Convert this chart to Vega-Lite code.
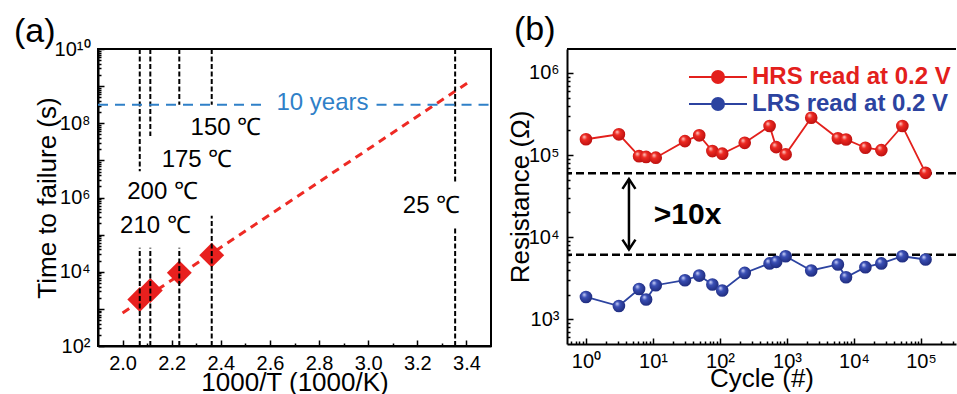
{
  "$schema": "https://vega.github.io/schema/vega-lite/v6.json",
  "padding": {"left": 13, "top": 13, "right": 0, "bottom": 0},
  "spacing": 14,
  "config": {
    "font": "Liberation Sans",
    "view": {"stroke": "black", "strokeWidth": 2},
    "axis": {
      "grid": false,
      "domainColor": "black",
      "domainWidth": 2,
      "tickColor": "black",
      "tickWidth": 1.5,
      "labelColor": "black",
      "labelFontSize": 20,
      "labelOverlap": false,
      "labelFlush": false,
      "titleColor": "black",
      "titleFontSize": 26,
      "titleFontWeight": "normal"
    },
    "title": {"fontSize": 34, "fontWeight": "normal", "color": "black", "anchor": "start", "frame": "group", "baseline": "alphabetic", "offset": -10}
  },
  "datasets": {
    "fit": [{"x": 2.0, "y": 780}, {"x": 3.416, "y": 1370000000}],
    "diam": [{"x": 2.070, "y": 1790}, {"x": 2.113, "y": 3130}, {"x": 2.231, "y": 9330}, {"x": 2.363, "y": 28000}],
    "vlines": [
      {"x": 2.070, "y": 10000000000, "y2": 5100000}, {"x": 2.070, "y": 100, "y2": 44000},
      {"x": 2.113, "y": 10000000000, "y2": 45000000}, {"x": 2.113, "y": 100, "y2": 44000},
      {"x": 2.231, "y": 10000000000, "y2": 315000000}, {"x": 2.231, "y": 100, "y2": 44000},
      {"x": 2.363, "y": 10000000000, "y2": 315000000}, {"x": 2.363, "y": 100, "y2": 320000},
      {"x": 3.354, "y": 10000000000, "y2": 2300000}, {"x": 3.354, "y": 100, "y2": 150000}
    ],
    "tenyr": [{"x": 1.9, "x2": 2.566, "y": 315000000}, {"x": 3.034, "x2": 3.5, "y": 315000000}],
    "temps": [
      {"x": 2.421, "y": 74000000, "label": "150 ℃"},
      {"x": 2.303, "y": 10000000, "label": "175 ℃"},
      {"x": 2.163, "y": 1400000, "label": "200 ℃"},
      {"x": 2.134, "y": 170000, "label": "210 ℃"},
      {"x": 3.258, "y": 590000, "label": "25 ℃"}
    ],
    "tenlabel": [{"x": 2.814, "y": 315000000, "label": "10 years"}],
    "pts": [
      {"series": "HRS read at 0.2 V", "cycle": 1, "r": 156000},
      {"series": "HRS read at 0.2 V", "cycle": 3.1, "r": 179000},
      {"series": "HRS read at 0.2 V", "cycle": 6.2, "r": 97000},
      {"series": "HRS read at 0.2 V", "cycle": 7.9, "r": 95000},
      {"series": "HRS read at 0.2 V", "cycle": 11, "r": 93000},
      {"series": "HRS read at 0.2 V", "cycle": 30, "r": 148000},
      {"series": "HRS read at 0.2 V", "cycle": 49, "r": 174000},
      {"series": "HRS read at 0.2 V", "cycle": 77, "r": 112000},
      {"series": "HRS read at 0.2 V", "cycle": 108, "r": 104000},
      {"series": "HRS read at 0.2 V", "cycle": 234, "r": 141000},
      {"series": "HRS read at 0.2 V", "cycle": 550, "r": 226000},
      {"series": "HRS read at 0.2 V", "cycle": 690, "r": 125000},
      {"series": "HRS read at 0.2 V", "cycle": 955, "r": 102000},
      {"series": "HRS read at 0.2 V", "cycle": 2300, "r": 285000},
      {"series": "HRS read at 0.2 V", "cycle": 5750, "r": 160000},
      {"series": "HRS read at 0.2 V", "cycle": 7600, "r": 155000},
      {"series": "HRS read at 0.2 V", "cycle": 14800, "r": 123000},
      {"series": "HRS read at 0.2 V", "cycle": 25600, "r": 115000},
      {"series": "HRS read at 0.2 V", "cycle": 52700, "r": 226000},
      {"series": "HRS read at 0.2 V", "cycle": 117000, "r": 60800},
      {"series": "LRS read at 0.2 V", "cycle": 1, "r": 1870},
      {"series": "LRS read at 0.2 V", "cycle": 3.1, "r": 1450},
      {"series": "LRS read at 0.2 V", "cycle": 6.2, "r": 2340},
      {"series": "LRS read at 0.2 V", "cycle": 7.9, "r": 1740},
      {"series": "LRS read at 0.2 V", "cycle": 11, "r": 2600},
      {"series": "LRS read at 0.2 V", "cycle": 30, "r": 2990},
      {"series": "LRS read at 0.2 V", "cycle": 49, "r": 3410},
      {"series": "LRS read at 0.2 V", "cycle": 77, "r": 2650},
      {"series": "LRS read at 0.2 V", "cycle": 108, "r": 2240},
      {"series": "LRS read at 0.2 V", "cycle": 234, "r": 3670},
      {"series": "LRS read at 0.2 V", "cycle": 550, "r": 4790},
      {"series": "LRS read at 0.2 V", "cycle": 690, "r": 5010},
      {"series": "LRS read at 0.2 V", "cycle": 955, "r": 5860},
      {"series": "LRS read at 0.2 V", "cycle": 2300, "r": 3930},
      {"series": "LRS read at 0.2 V", "cycle": 5750, "r": 4650},
      {"series": "LRS read at 0.2 V", "cycle": 7600, "r": 3250},
      {"series": "LRS read at 0.2 V", "cycle": 14800, "r": 4310},
      {"series": "LRS read at 0.2 V", "cycle": 25600, "r": 4790},
      {"series": "LRS read at 0.2 V", "cycle": 52700, "r": 5860},
      {"series": "LRS read at 0.2 V", "cycle": 117000, "r": 5350}
    ],
    "thr": [{"r": 60300}, {"r": 6100}],
    "border": [{"r": 1960000}],
    "arrow": [{"cycle": 4.38, "r": 51000, "r2": 7100}],
    "heads": [{"cycle": 4.38, "r": 51000, "head": "up"}, {"cycle": 4.38, "r": 7100, "head": "down"}],
    "ratio": [{"cycle": 10.3, "r": 18500, "label": ">10x"}]
  },
  "hconcat": [
    {
      "width": 393,
      "height": 297,
      "title": {"text": "(a)", "dx": -84},
      "encoding": {
        "x": {
          "field": "x", "type": "quantitative",
          "scale": {"domain": [1.9, 3.5], "nice": false, "zero": false},
          "axis": {
            "title": "1000/T (1000/K)",
            "values": [2.0, 2.1, 2.2, 2.3, 2.4, 2.5, 2.6, 2.7, 2.8, 2.9, 3.0, 3.1, 3.2, 3.3, 3.4],
            "labelExpr": "abs(datum.value*5 - round(datum.value*5)) < 0.01 ? format(datum.value, '.1f') : ''",
            "tickSize": {"condition": {"test": "abs(datum.value*5 - round(datum.value*5)) < 0.01", "value": -6}, "value": -3},
            "labelPadding": 13,
            "titlePadding": -7
          }
        },
        "y": {
          "field": "y", "type": "quantitative",
          "scale": {"type": "log", "domain": [100, 10000000000], "nice": false},
          "axis": {
            "title": "Time to failure (s)",
            "values": [100, 200, 300, 400, 500, 600, 700, 800, 900, 1000, 2000, 3000, 4000, 5000, 6000, 7000, 8000, 9000, 10000, 20000, 30000, 40000, 50000, 60000, 70000, 80000, 90000, 100000, 200000, 300000, 400000, 500000, 600000, 700000, 800000, 900000, 1000000, 2000000, 3000000, 4000000, 5000000, 6000000, 7000000, 8000000, 9000000, 10000000, 20000000, 30000000, 40000000, 50000000, 60000000, 70000000, 80000000, 90000000, 100000000, 200000000, 300000000, 400000000, 500000000, 600000000, 700000000, 800000000, 900000000, 1000000000, 2000000000, 3000000000, 4000000000, 5000000000, 6000000000, 7000000000, 8000000000, 9000000000, 10000000000],
            "labelExpr": "datum.value==100?'10²':datum.value==10000?'10⁴':datum.value==1000000?'10⁶':datum.value==100000000?'10⁸':datum.value==10000000000?'10¹⁰':''",
            "tickSize": {"condition": {"test": "abs(log(datum.value)/LN10 - round(log(datum.value)/LN10)) < 0.001", "value": -6}, "value": -3},
            "labelPadding": 14,
            "titlePadding": -6
          }
        }
      },
      "layer": [
        {"data": {"name": "fit"}, "mark": {"type": "line", "color": "#ee2a24", "strokeWidth": 3, "strokeDash": [8, 6]}},
        {"data": {"name": "diam"}, "mark": {"type": "point", "shape": "diamond", "filled": true, "size": 620, "color": "#e8201e", "opacity": 1}},
        {"data": {"name": "vlines"}, "mark": {"type": "rule", "color": "black", "strokeWidth": 2, "strokeDash": [5, 2.5]}, "encoding": {"y2": {"field": "y2"}}},
        {"data": {"name": "tenyr"}, "mark": {"type": "rule", "color": "#2f80c8", "strokeWidth": 2, "strokeDash": [10, 7]}, "encoding": {"x2": {"field": "x2"}}},
        {"data": {"name": "temps"}, "mark": {"type": "text", "fontSize": 24, "color": "black", "align": "center", "baseline": "middle"}, "encoding": {"text": {"field": "label"}}},
        {"data": {"name": "tenlabel"}, "mark": {"type": "text", "fontSize": 24, "color": "#2f80c8", "align": "center", "baseline": "middle", "dy": -2}, "encoding": {"text": {"field": "label"}}}
      ]
    },
    {
      "width": 389,
      "height": 295,
      "title": {"text": "(b)", "dx": -53, "dy": -11},
      "view": {"stroke": null},
      "layer": [
        {
          "data": {"name": "border"},
          "mark": {"type": "rule", "color": "black", "strokeWidth": 2},
          "encoding": {"y": {"field": "r", "type": "quantitative", "title": "Resistance (Ω)"}}
        },
        {
          "data": {"name": "thr"},
          "mark": {"type": "rule", "color": "black", "strokeWidth": 2.5, "strokeDash": [8, 4]},
          "encoding": {"y": {"field": "r", "type": "quantitative", "title": "Resistance (Ω)"}}
        },
        {
          "data": {"name": "pts"},
          "mark": {"type": "line", "strokeWidth": 1.8},
          "encoding": {
            "x": {
              "field": "cycle", "type": "quantitative",
              "scale": {"type": "log", "domain": [0.521, 333000], "nice": false},
              "axis": {
                "title": "Cycle (#)",
                "values": [0.6, 0.7, 0.8, 0.9, 1, 2, 3, 4, 5, 6, 7, 8, 9, 10, 20, 30, 40, 50, 60, 70, 80, 90, 100, 200, 300, 400, 500, 600, 700, 800, 900, 1000, 2000, 3000, 4000, 5000, 6000, 7000, 8000, 9000, 10000, 20000, 30000, 40000, 50000, 60000, 70000, 80000, 90000, 100000, 200000, 300000],
                "labelExpr": "datum.value==1?'10⁰':datum.value==10?'10¹':datum.value==100?'10²':datum.value==1000?'10³':datum.value==10000?'10⁴':datum.value==100000?'10⁵':''",
                "tickSize": {"condition": {"test": "abs(log(datum.value)/LN10 - round(log(datum.value)/LN10)) < 0.001", "value": -6}, "value": -3},
                "labelPadding": 13,
                "titlePadding": -9
              }
            },
            "y": {
              "field": "r", "type": "quantitative",
              "title": "Resistance (Ω)",
              "scale": {"type": "log", "domain": [500, 1960000], "nice": false},
              "axis": {
                "title": "Resistance (Ω)",
                "values": [600, 700, 800, 900, 1000, 2000, 3000, 4000, 5000, 6000, 7000, 8000, 9000, 10000, 20000, 30000, 40000, 50000, 60000, 70000, 80000, 90000, 100000, 200000, 300000, 400000, 500000, 600000, 700000, 800000, 900000, 1000000],
                "labelExpr": "datum.value==1000?'10³':datum.value==10000?'10⁴':datum.value==100000?'10⁵':datum.value==1000000?'10⁶':''",
                "tickSize": {"condition": {"test": "abs(log(datum.value)/LN10 - round(log(datum.value)/LN10)) < 0.001", "value": -6}, "value": -3},
                "labelPadding": 14,
                "titlePadding": -5
              }
            },
            "color": {
              "field": "series", "type": "nominal",
              "scale": {"domain": ["HRS read at 0.2 V", "LRS read at 0.2 V"], "range": ["#e3201c", "#2c43a0"]},
              "legend": {
                "orient": "none", "legendX": 608, "legendY": 16, "title": null, "padding": 0,
                "symbolType": "M-5.8,0H-1.2M1.2,0H5.8M-1.2,0A1.2,1.2,0,1,1,1.2,0A1.2,1.2,0,1,1,-1.2,0Z",
                "symbolSize": 100, "symbolStrokeWidth": 2,
                "labelFontSize": 24, "labelFontWeight": "bold", "labelOffset": 22, "labelLimit": 400, "rowPadding": 3,
                "encode": {
                  "symbols": {"update": {
                    "fill": {"signal": "datum.value === 'HRS read at 0.2 V' ? '#e3201c' : '#2c43a0'"},
                    "stroke": {"signal": "datum.value === 'HRS read at 0.2 V' ? '#e3201c' : '#2c43a0'"}
                  }},
                  "labels": {"update": {
                    "fill": {"signal": "datum.value === 'HRS read at 0.2 V' ? '#e3201c' : '#2c43a0'"}
                  }}
                }
              }
            }
          }
        },
        {
          "data": {"name": "pts"},
          "transform": [{"filter": "datum.series === 'HRS read at 0.2 V'"}],
          "mark": {"type": "point", "filled": true, "size": 160, "opacity": 1, "strokeWidth": 0,
            "fill": {"gradient": "radial", "x1": 0.35, "y1": 0.3, "r1": 0, "x2": 0.45, "y2": 0.45, "r2": 0.6,
              "stops": [{"offset": 0, "color": "#ffd6d0"}, {"offset": 0.35, "color": "#ee2a22"}, {"offset": 1, "color": "#b80e0e"}]}},
          "encoding": {"x": {"field": "cycle", "type": "quantitative"}, "y": {"field": "r", "type": "quantitative", "title": "Resistance (Ω)"}}
        },
        {
          "data": {"name": "pts"},
          "transform": [{"filter": "datum.series === 'LRS read at 0.2 V'"}],
          "mark": {"type": "point", "filled": true, "size": 160, "opacity": 1, "strokeWidth": 0,
            "fill": {"gradient": "radial", "x1": 0.35, "y1": 0.3, "r1": 0, "x2": 0.45, "y2": 0.45, "r2": 0.6,
              "stops": [{"offset": 0, "color": "#d6dcff"}, {"offset": 0.35, "color": "#3a4fb5"}, {"offset": 1, "color": "#1c2878"}]}},
          "encoding": {"x": {"field": "cycle", "type": "quantitative"}, "y": {"field": "r", "type": "quantitative", "title": "Resistance (Ω)"}}
        },
        {
          "data": {"name": "arrow"},
          "mark": {"type": "rule", "color": "black", "strokeWidth": 2.5},
          "encoding": {"x": {"field": "cycle", "type": "quantitative"}, "y": {"field": "r", "type": "quantitative", "title": "Resistance (Ω)"}, "y2": {"field": "r2"}}
        },
        {
          "data": {"name": "heads"},
          "mark": {"type": "point", "filled": false, "size": 169, "strokeWidth": 2.5, "color": "black", "opacity": 1},
          "encoding": {
            "x": {"field": "cycle", "type": "quantitative"},
            "y": {"field": "r", "type": "quantitative", "title": "Resistance (Ω)"},
            "shape": {"field": "head", "type": "nominal", "scale": {"domain": ["up", "down"], "range": ["M-1,1.5L0,0L1,1.5", "M-1,-1.5L0,0L1,-1.5"]}, "legend": null}
          }
        },
        {
          "data": {"name": "ratio"},
          "mark": {"type": "text", "fontSize": 30, "fontWeight": "bold", "color": "black", "align": "left", "baseline": "middle"},
          "encoding": {"x": {"field": "cycle", "type": "quantitative"}, "y": {"field": "r", "type": "quantitative", "title": "Resistance (Ω)"}, "text": {"field": "label"}}
        }
      ]
    }
  ]
}
